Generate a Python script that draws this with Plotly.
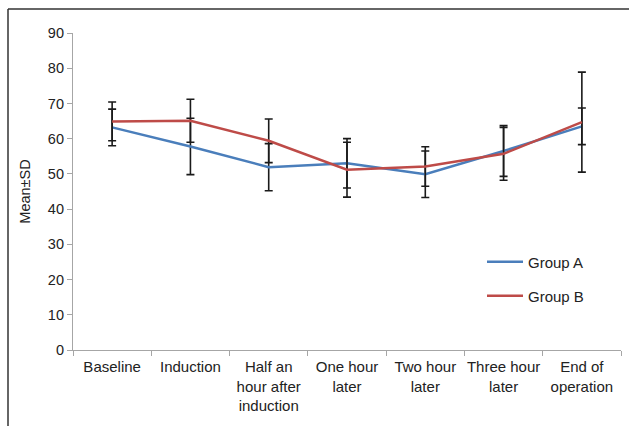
import plotly.graph_objects as go

categories = ["Baseline", "Induction", "Half an<br>hour after<br>induction", "One hour<br>later",
              "Two hour<br>later", "Three hour<br>later", "End of<br>operation"]
group_a_mean = [63.2, 57.8, 51.9, 53.0, 49.9, 56.5, 63.5]
group_a_sd = [5.2, 8.0, 6.7, 7.0, 6.6, 7.2, 5.2]
group_b_mean = [64.9, 65.1, 59.4, 51.2, 52.1, 55.7, 64.7]
group_b_sd = [5.5, 6.1, 6.2, 7.8, 5.6, 7.5, 14.2]
y_ticks = [0, 10, 20, 30, 40, 50, 60, 70, 80, 90]

FONT = "Liberation Sans, Arial, sans-serif"
TXT = "#222222"
BLUE = "#4A7EBB"
RED = "#BE4B48"

fig = go.Figure()
fig.add_trace(go.Scatter(
    x=categories, y=group_a_mean, name="Group A", mode="lines", showlegend=True,
    line=dict(color=BLUE, width=2.5),
    error_y=dict(type="data", array=group_a_sd, visible=True, color="#1a1a1a", thickness=1.6, width=4),
    legend="legend",
))
fig.add_trace(go.Scatter(
    x=categories, y=group_b_mean, name="Group B", mode="lines", showlegend=True,
    line=dict(color=RED, width=2.5),
    error_y=dict(type="data", array=group_b_sd, visible=True, color="#1a1a1a", thickness=1.6, width=4),
    legend="legend2",
))

L, R, T, B = 73, 8, 33, 76
W, H = 629, 426
pw = W - L - R
ph = H - T - B

def px(x):
    return (x - L) / pw

def py(y):
    return (H - B - y) / ph

fig.update_layout(
    width=W, height=H,
    margin=dict(l=L, r=R, t=T, b=B, autoexpand=False),
    paper_bgcolor="white", plot_bgcolor="white",
    showlegend=True,
    font=dict(family=FONT, size=15, color=TXT),
    xaxis=dict(
        type="category", range=[-0.5, len(categories) - 0.5],
        showgrid=False, showline=True, linecolor="#A6A6A6", linewidth=1.2,
        ticks="outside", tickson="boundaries", ticklen=5, tickcolor="#A6A6A6",
        tickfont=dict(family=FONT, size=15, color=TXT), tickangle=0, ticklabelstandoff=3,
    ),
    yaxis=dict(
        range=[0, 90], tickvals=y_ticks, showgrid=False, showline=True, linecolor="#A6A6A6",
        linewidth=1.2, ticks="outside", ticklen=5, tickcolor="#A6A6A6", zeroline=False,
        tickfont=dict(family=FONT, size=14.5, color=TXT),
        title=dict(text="Mean±SD", font=dict(family=FONT, size=14.5, color=TXT), standoff=13),
    ),
    legend=dict(x=px(482), y=py(262), xanchor="left", yanchor="middle", bgcolor="rgba(0,0,0,0)",
                itemwidth=36, font=dict(family=FONT, size=15, color=TXT)),
    legend2=dict(x=px(482), y=py(296), xanchor="left", yanchor="middle", bgcolor="rgba(0,0,0,0)",
                 itemwidth=36, font=dict(family=FONT, size=15, color=TXT)),
    shapes=[
        dict(type="line", xref="paper", yref="paper", x0=px(8), x1=px(8), y0=py(9), y1=py(426),
             line=dict(color="#333333", width=1.5)),
        dict(type="line", xref="paper", yref="paper", x0=px(8), x1=px(629), y0=py(9), y1=py(9),
             line=dict(color="#333333", width=1.5)),
    ],
)

fig.write_html("out.html", config={"displayModeBar": False},
               post_script="document.body.style.margin='0';document.body.style.overflow='hidden';")
